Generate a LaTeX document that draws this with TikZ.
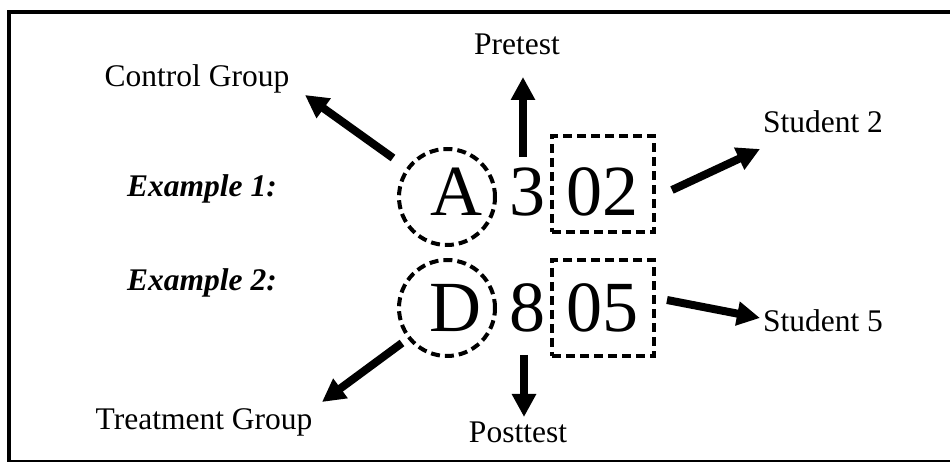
\documentclass[tikz,border=0pt]{standalone}
\usepackage{fontspec}
\setmainfont{Liberation Serif}
\usetikzlibrary{arrows.meta}
\begin{document}
\begin{tikzpicture}[x=1pt,y=1pt,
  lbl/.style={font=\fontsize{31.5}{36}\selectfont, anchor=base, inner sep=0pt},
  exlbl/.style={font=\fontsize{31.5}{36}\selectfont\bfseries\itshape, anchor=base, inner sep=0pt},
  big/.style={font=\fontsize{72}{80}\selectfont, inner sep=0pt},
  dcirc/.style={draw, circle, line width=4pt, dash pattern=on 9pt off 5pt, minimum size=96pt, inner sep=0pt},
  dbox/.style={draw, rectangle, line width=4pt, dash pattern=on 9pt off 5pt, minimum width=102pt, minimum height=96pt, inner sep=0pt},
  arr/.style={line width=8pt, -{Triangle[width=23pt,length=23pt]}}]
\useasboundingbox (0,0) rectangle (950,462);
\clip (0,0) rectangle (950,462);
\fill[white] (0,0) rectangle (950,462);
\draw[line width=4pt] (9,450) rectangle (962,0);
% row 1
\node[dcirc] (A) at (447,265) {};
\node[big] (Al) at (456,270) {A};
\node[big] (n3) at (527,270) {3};
\node[dbox] (b02) at (603,278) {};
\node[big] (n02) at (602,270) {02};
% row 2
\node[dcirc] (D) at (447,154) {};
\node[big] (Dl) at (455,154) {D};
\node[big] (n8) at (527,154) {8};
\node[dbox] (b05) at (603,154) {};
\node[big] (n05) at (602,154) {05};
% labels
\node[lbl] (ctrl) at (197,375) {Control Group};
\node[exlbl] (ex1) at (202,265) {Example 1:};
\node[exlbl] (ex2) at (202,171) {Example 2:};
\node[lbl] (treat) at (204,32) {Treatment Group};
\node[lbl] (pre) at (517,407) {Pretest};
\node[lbl] (post) at (518,19) {Posttest};
\node[lbl] (st2) at (823,329) {Student 2};
\node[lbl] (st5) at (823,130) {Student 5};
% arrow ends
\coordinate (cS) at (393,304); \coordinate (cT) at (305,367);
\coordinate (tS) at (402,119); \coordinate (tT) at (322,60);
\coordinate (s2S) at (672,272); \coordinate (s2T) at (760,313);
\coordinate (s5S) at (667,162); \coordinate (s5T) at (760,144);
\coordinate (pS) at (523,305); \coordinate (pT) at (523,385);
\coordinate (qS) at (524,107); \coordinate (qT) at (524,45);
\draw[arr] (cS) -- (cT);
\draw[arr] (tS) -- (tT);
\draw[arr] (s2S) -- (s2T);
\draw[arr] (s5S) -- (s5T);
\draw[arr] (pS) -- (pT);
\draw[arr] (qS) -- (qT);
\end{tikzpicture}
\end{document}
